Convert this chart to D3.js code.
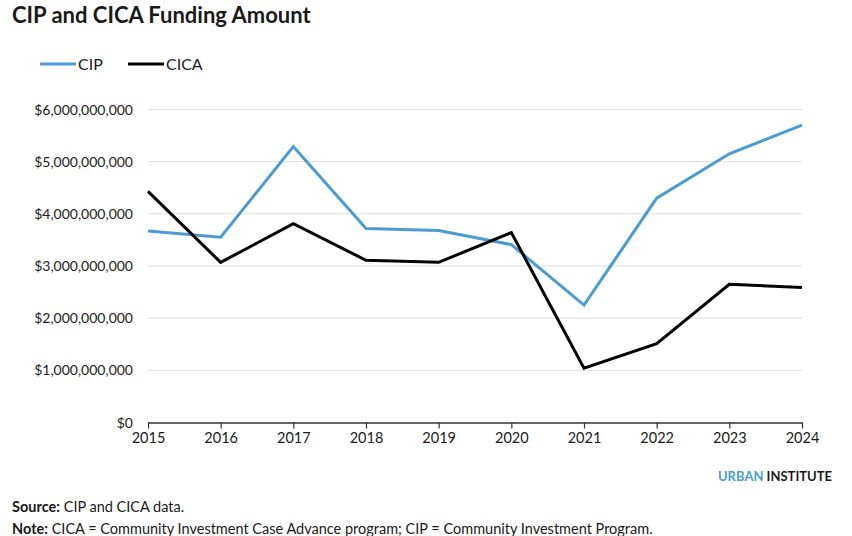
<html>
<head>
<script src="https://d3js.org/d3.v7.min.js"></script>
<style>
  body { margin: 0; background: #fff; font-family: Lato, sans-serif; }
</style>
</head>
<body>
<script>
// data (dollars)
var years = [2015, 2016, 2017, 2018, 2019, 2020, 2021, 2022, 2023, 2024];
var cip  = [3.67e9, 3.55e9, 5.29e9, 3.72e9, 3.68e9, 3.41e9, 2.25e9, 4.30e9, 5.15e9, 5.70e9];
var cica = [4.43e9, 3.07e9, 3.81e9, 3.11e9, 3.07e9, 3.64e9, 1.04e9, 1.51e9, 2.65e9, 2.59e9];
var yTicks = [0, 1e9, 2e9, 3e9, 4e9, 5e9, 6e9];

var W = 852, H = 536;
var svg = d3.select("body").append("svg")
    .attr("width", W).attr("height", H)
    .style("font-family", "Lato, sans-serif");

var x = d3.scalePoint().domain(years).range([148, 802]);
var y = d3.scaleLinear().domain([0, 6e9]).range([422.5, 109.5]);

// title
svg.append("text").attr("x", 12).attr("y", 23)
    .attr("font-size", 22).attr("font-weight", "bold").attr("fill", "#1a1a1a")
    .text("CIP and CICA Funding Amount");

// legend
var legend = [{name: "CIP", color: "#4b9cd3", x: 40}, {name: "CICA", color: "#000", x: 128}];
legend.forEach(function(d) {
    svg.append("line").attr("x1", d.x).attr("x2", d.x + 36)
        .attr("y1", 64).attr("y2", 64)
        .attr("stroke", d.color).attr("stroke-width", 3);
    svg.append("text").attr("x", d.x + 38).attr("y", 70)
        .attr("font-size", 16).attr("fill", "#1a1a1a").text(d.name);
});

// gridlines
svg.append("g").selectAll("line").data(yTicks.slice(1)).enter()
    .append("line")
    .attr("x1", 148).attr("x2", 802)
    .attr("y1", d => y(d)).attr("y2", d => y(d))
    .attr("stroke", "#dedede").attr("stroke-width", 1);

// y labels
var fmt = d3.format("$,.0f");
svg.append("g").selectAll("text").data(yTicks).enter()
    .append("text")
    .attr("x", 133).attr("y", d => y(d) + 5)
    .attr("text-anchor", "end").attr("font-size", 14).attr("fill", "#1a1a1a")
    .text(d => fmt(d));

// x axis
var xAxis = svg.append("g").attr("transform", "translate(0," + y(0) + ")")
    .call(d3.axisBottom(x).tickSize(6).tickSizeOuter(0).tickPadding(4));
xAxis.select(".domain").attr("stroke", "#333").attr("stroke-width", 1.5);
xAxis.selectAll(".tick line").attr("stroke", "#333").attr("stroke-width", 1.2);
xAxis.selectAll(".tick text").attr("font-size", 14.5).attr("fill", "#1a1a1a")
    .attr("font-family", "Lato, sans-serif");

// lines
var line = d3.line().x((d, i) => x(years[i])).y(d => y(d));
svg.append("path").datum(cip).attr("d", line)
    .attr("fill", "none").attr("stroke", "#4b9cd3").attr("stroke-width", 3)
    .attr("stroke-linejoin", "miter");
svg.append("path").datum(cica).attr("d", line)
    .attr("fill", "none").attr("stroke", "#000").attr("stroke-width", 3)
    .attr("stroke-linejoin", "miter");

// branding
var brand = svg.append("text").attr("x", 832).attr("y", 481)
    .attr("text-anchor", "end").attr("font-size", 13).attr("font-weight", "bold");
brand.append("tspan").attr("fill", "#4b9cd3").text("URBAN ");
brand.append("tspan").attr("fill", "#1a1a1a").text("INSTITUTE");

// notes
var src = svg.append("text").attr("x", 12).attr("y", 512).attr("font-size", 14.5).attr("fill", "#1a1a1a");
src.append("tspan").attr("font-weight", "bold").text("Source:");
src.append("tspan").text(" CIP and CICA data.");
var note = svg.append("text").attr("x", 12).attr("y", 534).attr("font-size", 14.5).attr("fill", "#1a1a1a");
note.append("tspan").attr("font-weight", "bold").text("Note:");
note.append("tspan").text(" CICA = Community Investment Case Advance program; CIP = Community Investment Program.");
</script>
</body>
</html>
